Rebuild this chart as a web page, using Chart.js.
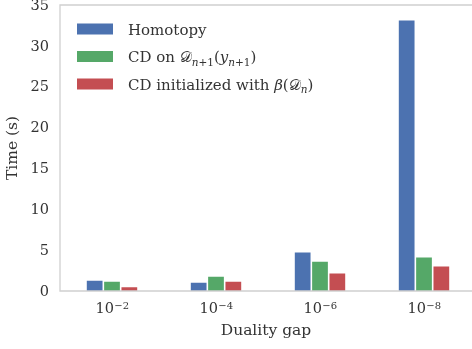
<!DOCTYPE html>
<html>
<head>
<meta charset="utf-8">
<script src="https://cdn.jsdelivr.net/npm/chart.js@4.4.1/dist/chart.umd.min.js"></script>
<style>
  html, body { margin: 0; padding: 0; background: #fff; width: 472px; height: 349px; overflow: hidden; }
  #chart { display: block; }
</style>
</head>
<body>
<canvas id="chart" width="472" height="349" style="width:472px;height:349px"></canvas>
<script>
// Duality-gap targets (exponent of 10) used as categories
const gapExponents = [-2, -4, -6, -8];
const categories = gapExponents.map(e => '10^' + e);

// Running time in seconds for each solver
const homotopy = [1.35, 1.1, 4.8, 33.2];
const cdOnDual = [1.22, 1.84, 3.67, 4.2];
const cdInit   = [0.55, 1.22, 2.24, 3.1];

const yTicks = [0, 5, 10, 15, 20, 25, 30, 35];
const seriesNames = ['Homotopy', 'CD on 𝒟n+1(yn+1)', 'CD initialized with β(𝒟n)'];
const seriesColors = ['#4C72B0', '#55A868', '#C44E52'];

// Horizontal range: half a slot before the first group; the right edge is
// cut a little short of the last half slot
const xMin = -0.5;
const xMax = 3.4615;

// Legend labels with math typesetting: it = italic, sub = subscript
const legendRich = [
  [{ t: 'Homotopy' }],
  [{ t: 'CD on ' }, { t: '𝒟' }, { t: 'n', it: true, sub: true }, { t: '+1', sub: true },
   { t: '(' }, { t: 'y', it: true }, { t: 'n', it: true, sub: true }, { t: '+1', sub: true }, { t: ')' }],
  [{ t: 'CD initialized with ' }, { t: 'β', it: true }, { t: '(' }, { t: '𝒟' },
   { t: 'n', it: true, sub: true }, { t: ')' }]
];

const FONT = '"DejaVu Serif", "Liberation Serif", serif';
const TEXT = '#333333';

// Light spines: left, top and bottom
const framePlugin = {
  id: 'frame',
  afterDatasetsDraw(chart) {
    const { ctx, chartArea: a } = chart;
    ctx.save();
    ctx.strokeStyle = '#d0d0d0';
    ctx.lineWidth = 1.3;
    ctx.beginPath();
    ctx.moveTo(a.right + 2, a.top);
    ctx.lineTo(a.left, a.top);
    ctx.lineTo(a.left, a.bottom);
    ctx.lineTo(a.right + 2, a.bottom);
    ctx.stroke();
    ctx.restore();
  }
};

// Tick labels: plain numbers on y, powers of ten on x
const tickLabelsPlugin = {
  id: 'tickLabels',
  afterDraw(chart) {
    const { ctx, chartArea: a } = chart;
    const xs = chart.scales.x, ys = chart.scales.y;
    ctx.save();
    ctx.fillStyle = TEXT;

    ctx.font = '14.5px ' + FONT;
    ctx.textAlign = 'right';
    ctx.textBaseline = 'middle';
    yTicks.forEach(v => ctx.fillText(String(v), a.left - 11, ys.getPixelForValue(v) + 1));

    ctx.textBaseline = 'alphabetic';
    ctx.textAlign = 'left';
    const base = a.bottom + 22.3;
    gapExponents.forEach((e, i) => {
      const cx = xs.getPixelForValue(i);
      const main = '10';
      const sup = '\u2212' + Math.abs(e);
      ctx.font = '14.5px ' + FONT;
      const w1 = ctx.measureText(main).width;
      ctx.font = '10px ' + FONT;
      const w2 = ctx.measureText(sup).width;
      const x0 = cx - (w1 + w2) / 2;
      ctx.font = '14.5px ' + FONT;
      ctx.fillText(main, x0, base);
      ctx.font = '10px ' + FONT;
      ctx.fillText(sup, x0 + w1 + 0.5, base - 4.5);
    });
    ctx.restore();
  }
};

// Legend drawn with subscripts and italics
const richLegendPlugin = {
  id: 'richLegend',
  afterDraw(chart) {
    const { ctx, chartArea: a } = chart;
    const fs = 15;
    ctx.save();
    ctx.textBaseline = 'alphabetic';
    ctx.textAlign = 'left';
    legendRich.forEach((segs, i) => {
      const base = a.top + 29.5 + i * 27.5;
      ctx.fillStyle = seriesColors[i];
      ctx.fillRect(a.left + 17, base - 11, 36, 11);
      let x = a.left + 68;
      ctx.fillStyle = TEXT;
      segs.forEach(s => {
        const size = s.sub ? fs * 0.7 : fs;
        ctx.font = (s.it ? 'italic ' : '') + size + 'px ' + FONT;
        ctx.fillText(s.t, x, s.sub ? base + 3.5 : base);
        x += ctx.measureText(s.t).width;
      });
    });
    ctx.restore();
  }
};

const datasets = [homotopy, cdOnDual, cdInit].map((vals, i) => ({
  label: seriesNames[i],
  data: vals.map((v, k) => ({ x: k, y: v })),
  backgroundColor: seriesColors[i],
  borderColor: 'rgba(255,255,255,0.55)',
  borderWidth: 0.8,
  categoryPercentage: 0.5,
  barPercentage: 1.0
}));

new Chart(document.getElementById('chart'), {
  type: 'bar',
  data: { labels: categories, datasets },
  plugins: [framePlugin, tickLabelsPlugin, richLegendPlugin],
  options: {
    responsive: false,
    devicePixelRatio: 1,
    animation: false,
    layout: { padding: { top: 5, right: 0, left: 0, bottom: 0 } },
    plugins: { legend: { display: false }, tooltip: { enabled: false } },
    scales: {
      x: {
        type: 'linear',
        min: xMin, max: xMax,
        offset: false,
        grid: { display: false, drawTicks: false },
        border: { display: false },
        // one tick per group, so each group gets a full slot
        afterBuildTicks(scale) { scale.ticks = categories.map((c, k) => ({ value: k })); },
        ticks: { display: false },
        title: {
          display: true, text: 'Duality gap', color: TEXT,
          font: { family: FONT, size: 15.5 }, padding: { top: 0, bottom: 9.1 }
        },
        afterFit(scale) { scale.height = 58; }
      },
      y: {
        min: 0, max: 35,
        grid: { display: false, drawTicks: false },
        border: { display: false },
        afterBuildTicks(scale) { scale.ticks = yTicks.map(v => ({ value: v })); },
        ticks: { display: false },
        title: {
          display: true, text: 'Time (s)', color: TEXT,
          font: { family: FONT, size: 15.5 }, padding: { top: 3.6, bottom: 0 }
        },
        afterFit(scale) { scale.width = 60; }
      }
    }
  }
});
</script>
</body>
</html>
